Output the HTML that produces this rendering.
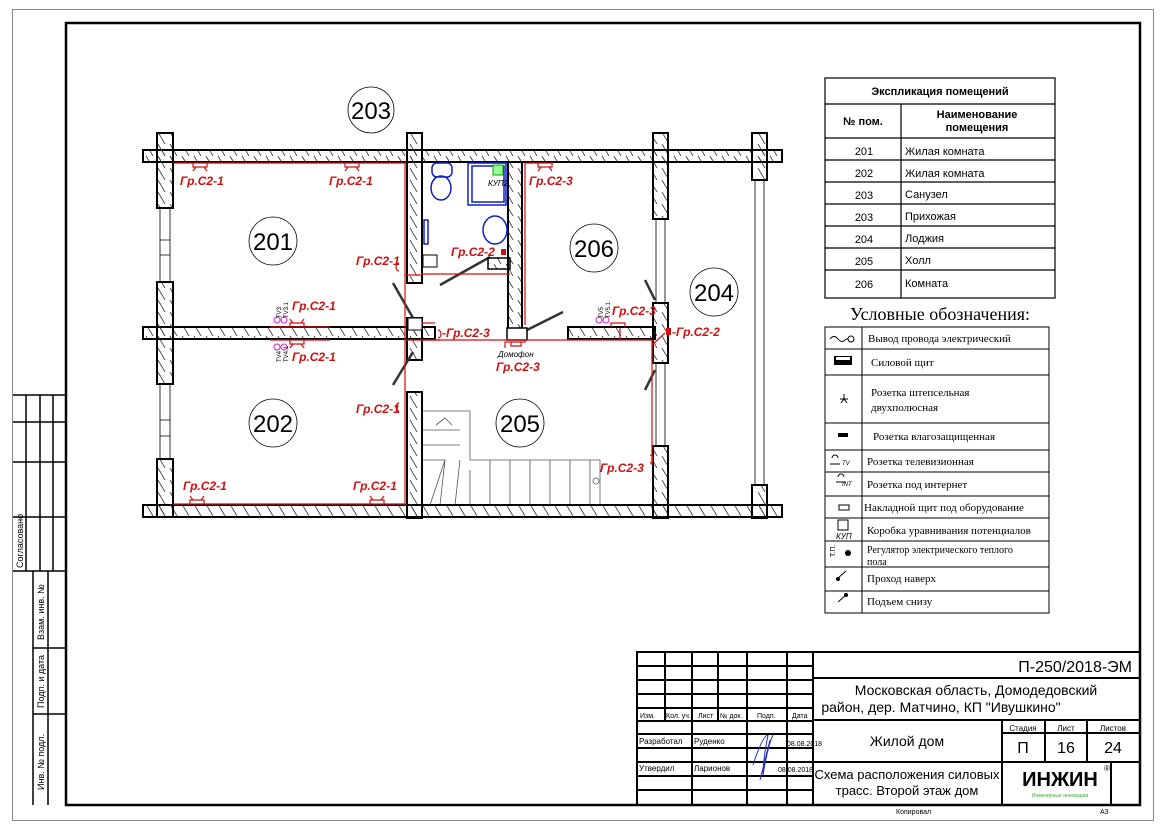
<!DOCTYPE html>
<html><head><meta charset="utf-8"><style>
html,body{margin:0;padding:0;background:#fff}
svg{display:block}
text{font-family:"Liberation Sans",sans-serif}
.r text{fill:#d01010;font-style:italic;font-size:12px;font-weight:bold}
.s text{font-family:"Liberation Serif",serif;font-size:11px}
</style></head><body>
<svg width="1166" height="824" viewBox="0 0 1166 824" xmlns="http://www.w3.org/2000/svg">
<defs>
<pattern id="h" width="12" height="12" patternUnits="userSpaceOnUse">
<path d="M2 0 L9 12" stroke="#333" stroke-width="0.8" fill="none"/>
</pattern>
</defs>
<rect width="1166" height="824" fill="#fff"/>
<rect x="12.5" y="9.5" width="1141" height="811" fill="none" stroke="#888" stroke-width="1"/>
<rect x="66" y="23" width="1074" height="782" fill="none" stroke="#000" stroke-width="2.5"/>

<g stroke="#000" stroke-width="1.5" fill="none">
<path d="M13 395 H66 M26 395 V571 M40 395 V571 M53 395 V571 M13 422 H66 M13 462 H66 M13 517 H66 M13 571 H66"/>
<path d="M33 571 V805 M48 571 V805 M33 648 H66 M33 714 H66"/>
</g>
<g font-size="9" fill="#000">
<text transform="translate(23,568) rotate(-90)">Согласовано</text>
<text transform="translate(44,640) rotate(-90)">Взам. инв. №</text>
<text transform="translate(44,708) rotate(-90)">Подп. и дата</text>
<text transform="translate(44,790) rotate(-90)">Инв. № подл.</text>
</g>

<g fill="none" stroke="#000" stroke-width="0.8">
<circle cx="371" cy="110" r="23"/>
<circle cx="273" cy="241" r="24"/>
<circle cx="273" cy="423" r="24"/>
<circle cx="520" cy="423" r="24"/>
<circle cx="594" cy="248" r="24"/>
<circle cx="714" cy="292" r="24"/>
</g>
<g font-size="24" text-anchor="middle" fill="#000">
<text x="371" y="119">203</text>
<text x="273" y="250">201</text>
<text x="273" y="432">202</text>
<text x="520" y="432">205</text>
<text x="594" y="257">206</text>
<text x="714" y="301">204</text>
</g>

<g stroke="#555" stroke-width="0.8" fill="none">
<path d="M422 411 H470 V460 H600 V505"/>
<path d="M422 430 H460 M422 445 H460 M422 460 H445 L430 505 M445 460 L440 505 M460 460 L455 505 M470 470 L470 505"/>
<path d="M490 460 V505 M510 460 V505 M530 460 V505 M550 460 V505 M570 460 V505 M590 460 V505"/>
<path d="M436 425 L445 418 L452 425"/>
<circle cx="596" cy="481" r="3"/>
</g>

<g stroke="#000" stroke-width="2" fill="url(#h)">
<rect x="143" y="150" width="639" height="12"/>
<rect x="143" y="505" width="639" height="12"/>
<rect x="143" y="327" width="292" height="12"/>
<rect x="568" y="327" width="87" height="12"/>
<rect x="157" y="133" width="16" height="75"/>
<rect x="157" y="282" width="16" height="102"/>
<rect x="157" y="459" width="16" height="58"/>
<rect x="407" y="133" width="15" height="150"/>
<rect x="407" y="318" width="15" height="42"/>
<rect x="407" y="392" width="15" height="126"/>
<rect x="508" y="162" width="14" height="167"/>
<rect x="653" y="133" width="15" height="86"/>
<rect x="653" y="303" width="15" height="60"/>
<rect x="653" y="446" width="15" height="72"/>
<rect x="752" y="133" width="15" height="47"/>
<rect x="752" y="485" width="15" height="33"/>
</g>
<g stroke="#000" stroke-width="0.8" fill="none">
<path d="M160 208 V282 M170 208 V282 M160 384 V459 M170 384 V459"/>
<path d="M656 219 V303 M665 219 V303 M656 363 V446 M665 363 V446"/>
<path d="M755 180 V485 M764 180 V485"/>
<path d="M160 240 h10 M160 255 h10 M160 420 h10 M160 436 h10"/>
</g>
<g stroke="#333" stroke-width="2.5" fill="none">
<path d="M393 283 L413 318"/>
<path d="M393 385 L413 352"/>
<path d="M440 285 L490 257"/>
<path d="M527 330 L563 312"/>
<path d="M645 280 L655 300"/>
<path d="M645 390 L655 370"/>
</g>

<g stroke="#1020c0" stroke-width="1.5" fill="none">
<ellipse cx="441" cy="188" rx="10" ry="12"/>
<rect x="432" y="163" width="20" height="14" rx="5"/>
<rect x="468" y="163" width="38" height="42"/>
<rect x="472" y="166" width="32" height="36"/>
<ellipse cx="495" cy="230" rx="12" ry="14"/>
<rect x="424" y="220" width="4" height="24"/>
</g>
<rect x="493" y="165" width="10" height="10" fill="#9f9" stroke="#0a0"/>
<text x="488" y="186" font-size="8" font-style="italic">КУП2</text>
<rect x="488" y="258" width="22" height="11" fill="url(#h)" stroke="#000" stroke-width="1.5"/>
<rect x="423" y="255" width="14" height="12" fill="#fff" stroke="#000"/>
<rect x="507" y="328" width="20" height="12" fill="#fff" stroke="#000" stroke-width="1.5"/>
<rect x="408" y="318" width="14" height="12" fill="#fff" stroke="#000"/>

<g stroke="#d01010" stroke-width="1.2" fill="none">
<path d="M173 163 H405 V504 H173"/>
<path d="M405 275 H422 M422 275 V274 H510"/>
<path d="M525 325 V163 H553"/>
<path d="M405 340 H440 M525 340 V342 H505 V348"/>
<path d="M422 340 H652 M652 340 V465 M652 345 L665 333 M620 340 V328"/>
<path d="M422 323 H435"/>
<path d="M270 327 H330 M270 340 H330"/>
</g>
<g stroke="#d01010" stroke-width="1.2" fill="none">
<path d="M193 163 v4 h14 v-4 M196 167 l-3 4 M204 167 l3 4"/>
<path d="M345 163 v4 h14 v-4 M348 167 l-3 4 M356 167 l3 4"/>
<path d="M538 163 v4 h14 v-4 M541 167 l-3 4 M549 167 l3 4"/>
<path d="M290 327 v-4 h14 v4 M293 323 l-3 -4 M301 323 l3 -4"/>
<path d="M290 340 v4 h14 v-4 M293 344 l-3 4 M301 344 l3 4"/>
<path d="M190 504 v-4 h14 v4 M193 500 l-3 -4 M201 500 l3 -4"/>
<path d="M370 504 v-4 h14 v4 M373 500 l-3 -4 M381 500 l3 -4"/>
<path d="M611 327 v-4 h14 v4"/>
<path d="M511 342 v4 h10 v-4"/>
<path d="M399 263 a3 4 0 0 0 0 8 M399 403 a3 4 0 0 0 0 8 M438 330 a3 4 0 0 1 0 8 M650 455 a3 4 0 0 1 0 8"/>
</g>
<rect x="501" y="249" width="5" height="6" fill="#d01010"/>
<rect x="666" y="328" width="5" height="7" fill="#d01010"/>
<g stroke="#d020d0" stroke-width="1" fill="none">
<circle cx="277" cy="320" r="3"/><circle cx="284" cy="320" r="3"/>
<circle cx="277" cy="347" r="3"/><circle cx="284" cy="347" r="3"/>
<circle cx="599" cy="320" r="3"/><circle cx="606" cy="320" r="3"/>
</g>
<g font-size="6" fill="#000">
<text transform="translate(281,318) rotate(-90)">TV3</text>
<text transform="translate(288,318) rotate(-90)">TV3.1</text>
<text transform="translate(281,362) rotate(-90)">TV4</text>
<text transform="translate(288,362) rotate(-90)">TV4.1</text>
<text transform="translate(603,318) rotate(-90)">TV5</text>
<text transform="translate(610,318) rotate(-90)">TV5.1</text>
</g>

<g class="r">
<text x="180" y="185">Гр.С2-1</text>
<text x="329" y="185">Гр.С2-1</text>
<text x="529" y="185">Гр.С2-3</text>
<text x="356" y="265">Гр.С2-1</text>
<text x="451" y="256">Гр.С2-2</text>
<text x="292" y="310">Гр.С2-1</text>
<text x="292" y="361">Гр.С2-1</text>
<text x="442" y="337">-Гр.С2-3</text>
<text x="496" y="371">Гр.С2-3</text>
<text x="612" y="315">Гр.С2-3</text>
<text x="672" y="336">-Гр.С2-2</text>
<text x="356" y="413">Гр.С2-1</text>
<text x="600" y="472">Гр.С2-3</text>
<text x="183" y="490">Гр.С2-1</text>
<text x="353" y="490">Гр.С2-1</text>
</g>
<text x="498" y="357" font-size="8" font-style="italic">Домофон</text>

<g stroke="#000" stroke-width="1.2" fill="none">
<rect x="825" y="78" width="230" height="220"/>
<path d="M825 104 H1055 M825 138 H1055 M825 160 H1055 M825 182 H1055 M825 204 H1055 M825 226 H1055 M825 248 H1055 M825 270 H1055 M901 104 V298"/>
</g>
<g font-size="11" fill="#000">
<text x="940" y="95" text-anchor="middle" font-weight="bold">Экспликация помещений</text>
<text x="863" y="125" text-anchor="middle" font-weight="bold">№ пом.</text>
<text x="977" y="118" text-anchor="middle" font-weight="bold">Наименование</text>
<text x="977" y="131" text-anchor="middle" font-weight="bold">помещения</text>
<g text-anchor="middle"><text x="864" y="155">201</text><text x="864" y="177">202</text><text x="864" y="199">203</text><text x="864" y="221">203</text><text x="864" y="243">204</text><text x="864" y="265">205</text><text x="864" y="288">206</text></g>
<text x="905" y="155">Жилая комната</text><text x="905" y="177">Жилая комната</text><text x="905" y="198">Санузел</text><text x="905" y="220">Прихожая</text><text x="905" y="242">Лоджия</text><text x="905" y="264">Холл</text><text x="905" y="287">Комната</text>
</g>
<text x="940" y="320" text-anchor="middle" style="font-family:'Liberation Serif',serif;font-size:18px">Условные обозначения:</text>

<g stroke="#000" stroke-width="1" fill="none">
<rect x="825" y="327" width="224" height="286"/>
<path d="M825 349 H1049 M825 375 H1049 M825 423 H1049 M825 450 H1049 M825 472 H1049 M825 496 H1049 M825 518 H1049 M825 541 H1049 M825 567 H1049 M825 591 H1049 M862 327 V613"/>
<path d="M830 339 q4 -5 8 0 q4 5 8 0 M846 339 h2"/><circle cx="851" cy="339" r="3"/>
<path d="M840 399 h8 M844 399 v-5 M841 403 l3 -4 l3 4"/>
<path d="M838 477 a3 3 0 1 1 6 0 M836 482 h10 M832 458 a3 3 0 1 1 6 0 M830 464 h10 M839 505 h10 v5 h-10z M838 520 h10 v10 h-10z"/>
<path d="M838 578 l8 -7 M838 602 l8 -7"/>
</g>
<rect x="834" y="356" width="18" height="9" fill="#000"/>
<rect x="836" y="357" width="14" height="3" fill="#fff"/>
<rect x="838" y="433" width="10" height="4" fill="#000"/>
<circle cx="838" cy="579" r="2" fill="#000"/><circle cx="846" cy="595" r="2" fill="#000"/>
<circle cx="848" cy="553" r="3" fill="#000"/>
<text x="836" y="539" font-size="8" font-style="italic">КУП</text>
<text x="842" y="465" font-size="6" font-style="italic">TV</text>
<text x="842" y="486" font-size="6" font-style="italic">INT</text>
<text transform="translate(835,557) rotate(-90)" font-size="7">Т.П.</text>
<g class="s" fill="#000">
<text x="868" y="342">Вывод провода электрический</text>
<text x="871" y="366">Силовой щит</text>
<text x="871" y="396">Розетка штепсельная</text>
<text x="871" y="411">двухполюсная</text>
<text x="873" y="440">Розетка влагозащищенная</text>
<text x="867" y="465">Розетка телевизионная</text>
<text x="867" y="488">Розетка под интернет</text>
<text x="864" y="511">Накладной щит под оборудование</text>
<text x="867" y="534">Коробка уравнивания потенциалов</text>
<text x="867" y="553" style="font-size:10px">Регулятор электрического теплого</text>
<text x="867" y="565" style="font-size:10px">пола</text>
<text x="867" y="582">Проход наверх</text>
<text x="867" y="605">Подъем снизу</text>
</g>

<g stroke="#000" stroke-width="2" fill="none">
<path d="M637 805 V652 H1140"/>
<path d="M637 666 H813 M637 680 H813 M637 694 H813 M637 708 H813 M637 721 H813 M637 734 H813 M637 748 H813 M637 762 H813 M637 776 H813 M637 790 H813"/>
<path d="M665 652 V721 M692 652 V721 M718 652 V721 M747 652 V805 M787 652 V805 M813 652 V805 M692 721 V805"/>
<path d="M813 678 H1140 M813 720 H1140 M813 762 H1140 M1002 720 V805 M1045 720 V762 M1087 720 V762 M1002 733 H1140 M1111 762 V805"/>
</g>
<g fill="#000">
<g font-size="7"><text x="640" y="718">Изм.</text><text x="666" y="718">Кол. уч.</text><text x="698" y="718">Лист</text><text x="720" y="718">№ док.</text><text x="757" y="718">Подп.</text><text x="792" y="718">Дата</text></g>
<g font-size="8"><text x="639" y="744">Разработал</text><text x="694" y="744">Руденко</text><text x="639" y="771">Утвердил</text><text x="694" y="771">Ларионов</text><text x="787" y="746" font-size="7">08.08.2018</text><text x="778" y="772" font-size="7">08.08.2018</text></g>
<text x="1132" y="672" font-size="16" text-anchor="end">П-250/2018-ЭМ</text>
<text x="976" y="695" font-size="14" text-anchor="middle">Московская область, Домодедовский</text>
<text x="941" y="712" font-size="14" text-anchor="middle">район, дер. Матчино, КП "Ивушкино"</text>
<text x="907" y="746" font-size="14" text-anchor="middle">Жилой дом</text>
<text x="907" y="779" font-size="13" text-anchor="middle">Схема расположения силовых</text>
<text x="907" y="795" font-size="13" text-anchor="middle">трасс. Второй этаж дом</text>
<g font-size="8" text-anchor="middle"><text x="1023" y="731">Стадия</text><text x="1066" y="731">Лист</text><text x="1113" y="731">Листов</text></g>
<g font-size="16" text-anchor="middle"><text x="1023" y="753">П</text><text x="1066" y="753">16</text><text x="1113" y="753">24</text></g>
<text x="1060" y="786" font-size="20" font-weight="bold" text-anchor="middle">ИНЖИН</text>
<text x="1060" y="797" font-size="5" fill="#3a3" text-anchor="middle">Инженерные инновации</text>
<text x="1104" y="771" font-size="8">®</text>
<text x="896" y="814" font-size="7">Копировал</text>
<text x="1100" y="814" font-size="7">А3</text>
</g>
<path d="M753 765 q10 -30 15 -30 q-5 25 -5 40 q5 -30 10 -40 M760 780 q5 -20 10 -40" stroke="#2030c0" stroke-width="1" fill="none"/>
</svg>
</body></html>
